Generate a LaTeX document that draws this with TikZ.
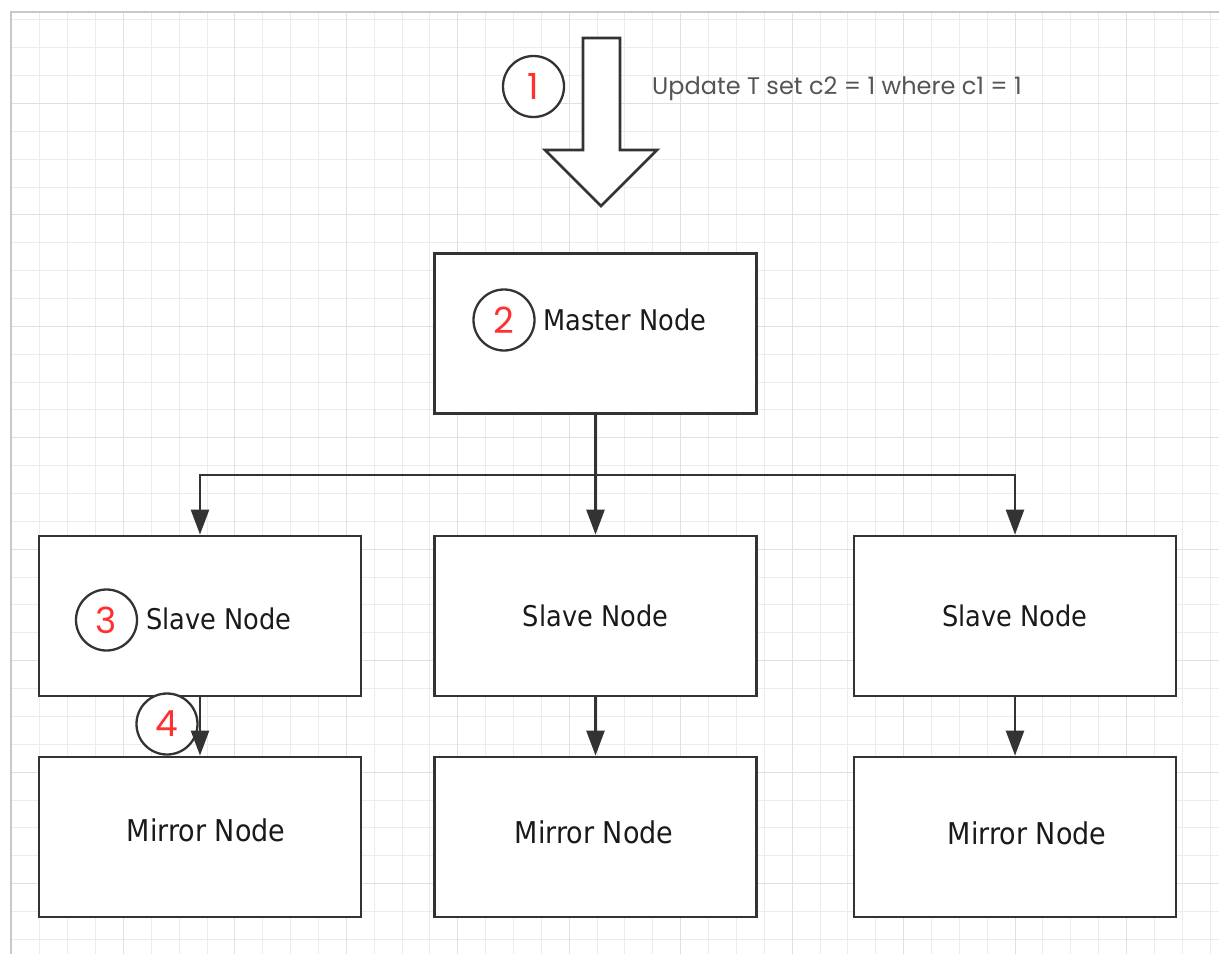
\documentclass[tikz,border=0pt]{standalone}
\usepackage{fontspec}
\usetikzlibrary{arrows.meta}
\newfontfamily\lblfamily{DejaVu Sans}[FakeStretch=0.9]
\newfontfamily\geofamily{Poppins}
\definecolor{boxc}{HTML}{333333}
\definecolor{numred}{HTML}{FF3030}
\definecolor{gridminor}{HTML}{ECECEC}
\definecolor{gridmajor}{HTML}{E0E0E0}
\definecolor{framec}{HTML}{C8C8C8}
\definecolor{sqlgray}{HTML}{555555}
\definecolor{lbltext}{HTML}{1A1A1A}
\tikzset{
  nodebox/.style={draw=boxc, line width=2.8pt, fill=white, minimum width=322pt, minimum height=160pt, inner sep=0pt, text=lbltext, font=\lblfamily\fontsize{28.5}{30}\selectfont},
  lbl/.style={inner sep=0pt, text=lbltext, font=\lblfamily\fontsize{28.5}{30}\selectfont},
  mlbl/.style={inner sep=0pt, text=lbltext, font=\lblfamily\fontsize{30}{32}\selectfont},
  numc/.style={circle, draw=boxc, line width=2.3pt, fill=white, minimum size=61pt, inner sep=0pt, text=numred, font=\geofamily\fontsize{36}{38}\selectfont},
  conn/.style={draw=boxc, line width=2.5pt},
  connarr/.style={conn, -{Triangle[length=25pt,width=18pt]}},
  minorg/.style={draw=gridminor, line width=1pt},
  majorg/.style={draw=gridmajor, line width=1.2pt},
}
\begin{document}
\begin{tikzpicture}[x=1pt,y=-1pt]
\useasboundingbox (0,0) rectangle (1219,954);
\fill[white] (0,0) rectangle (1219,954);
% grid
\begin{scope}
\clip (11,12) rectangle (1219,954);
\foreach \i in {-3,...,39} {
  \pgfmathsetmacro\gx{round(123+27.86*\i)+0.5}
  \draw[minorg] (\gx,12) -- (\gx,954);
}
\foreach \j in {-3,...,30} {
  \pgfmathsetmacro\gy{round(103+27.86*\j)+0.5}
  \draw[minorg] (11,\gy) -- (1219,\gy);
}
\foreach \i in {0,4,...,36} {
  \pgfmathsetmacro\gx{round(123+27.86*\i)+0.5}
  \draw[majorg] (\gx,12) -- (\gx,954);
}
\foreach \j in {0,4,...,28} {
  \pgfmathsetmacro\gy{round(103+27.86*\j)+0.5}
  \draw[majorg] (11,\gy) -- (1219,\gy);
}
\end{scope}
\draw[framec, line width=2pt] (11,954) -- (11,12) -- (1219,12);

% block arrow
\draw[boxc, line width=2.8pt, fill=white, line join=miter]
  (583,38) -- (620,38) -- (620,150) -- (657,150) -- (601,206) -- (545,150) -- (583,150) -- cycle;
\node[numc] (c1) at (533.5,86.5) {1};
\node[anchor=west, inner sep=0pt, text=sqlgray, font=\geofamily\fontsize{24}{26}\selectfont] (sql) at (652,89) {Update T set c2 = 1 where c1 = 1};

% boxes
\node[nodebox] (master) at (595.5,333.5) {};
\node[nodebox] (s1) at (200,616) {};
\node[nodebox] (s2) at (595.5,616) {Slave Node};
\node[nodebox] (s3) at (1015,616) {Slave Node};
\node[nodebox] (m1) at (200,837) {};
\node[nodebox] (m2) at (595.5,837) {};
\node[nodebox] (m3) at (1015,837) {};

\node[lbl] (masterlbl) at (625,320) {Master Node};
\node[numc] (c2) at (504,320) {2};
\node[lbl] (s1lbl) at (219,619) {Slave Node};
\node[numc] (c3) at (106.5,620) {3};
\node[mlbl] (m1lbl) at (206,830) {Mirror Node};
\node[mlbl] (m2lbl) at (594,832) {Mirror Node};
\node[mlbl] (m3lbl) at (1027,833) {Mirror Node};

% connectors
\coordinate (split) at (595.5,475);
\draw[conn] (master.south) -- (split);
\draw[connarr] (split) -| (s1.north);
\draw[connarr] (split) -- (s2.north);
\draw[connarr] (split) -| (s3.north);

\node[numc] (c4) at (167,724) {4};
\draw[connarr] (s1.south) -- (m1.north);
\draw[connarr] (s2.south) -- (m2.north);
\draw[connarr] (s3.south) -- (m3.north);
\end{tikzpicture}
\end{document}
